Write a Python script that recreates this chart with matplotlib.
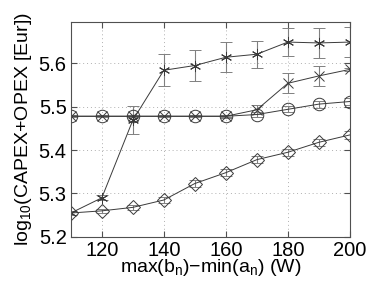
import matplotlib
matplotlib.use("Agg")
import matplotlib.pyplot as plt

x = [110, 120, 130, 140, 150, 160, 170, 180, 190, 200]

star_vals = [5.255, 5.290, 5.469, 5.584, 5.595, 5.614, 5.621, 5.649, 5.647, 5.649]
star_err = [0.004, 0.006, 0.032, 0.037, 0.035, 0.035, 0.031, 0.033, 0.035, 0.035]

cross_vals = [5.478, 5.478, 5.478, 5.478, 5.478, 5.478, 5.493, 5.554, 5.571, 5.586]
cross_err = [0.002, 0.002, 0.002, 0.002, 0.002, 0.003, 0.010, 0.023, 0.024, 0.003]

circ_vals = [5.478, 5.478, 5.478, 5.478, 5.478, 5.478, 5.482, 5.494, 5.506, 5.512]
circ_err = [0.002, 0.002, 0.002, 0.002, 0.002, 0.002, 0.006, 0.007, 0.008, 0.008]

diam_vals = [5.255, 5.260, 5.268, 5.285, 5.323, 5.348, 5.378, 5.395, 5.418, 5.435]
diam_err = [0.004, 0.005, 0.005, 0.006, 0.008, 0.008, 0.008, 0.008, 0.008, 0.010]

xticks = [120, 140, 160, 180, 200]
yticks = [5.2, 5.3, 5.4, 5.5, 5.6]

plt.rcParams['font.family'] = ['Liberation Sans', 'DejaVu Sans']
plt.rcParams['mathtext.fontset'] = 'custom'
plt.rcParams['mathtext.rm'] = 'Liberation Sans'
plt.rcParams['mathtext.it'] = 'Liberation Sans'

fig = plt.figure(figsize=(3.87, 2.91), dpi=100)
ax = fig.add_axes([0.183, 0.186, 0.721, 0.738])

lc = '#3a3a3a'
ec = '#808080'
common = dict(color=lc, lw=0.7, ecolor=ec, elinewidth=0.8, capsize=4, capthick=0.8,
              mfc='none', mec=lc, mew=0.7)
ax.errorbar(x, star_vals, yerr=star_err, marker=(6, 2, 0), ms=8, **common)
ax.errorbar(x, cross_vals, yerr=cross_err, marker='x', ms=7, **common)
ax.errorbar(x, circ_vals, yerr=circ_err, marker='o', ms=9, **common)
ax.errorbar(x, diam_vals, yerr=diam_err, marker='D', ms=7, **common)

ax.set_xlim(110, 200)
ax.set_ylim(5.2, 5.695)
ax.set_xticks(xticks)
ax.set_yticks(yticks)
ax.set_yticklabels(['%.1f' % v for v in yticks])
ax.grid(True, linestyle=(0, (1, 3)), color='#b0b0b0', lw=0.7)
ax.tick_params(direction='in', top=True, right=True, labelsize=14.5, length=4,
               color='#505050', pad=3)
for s in ax.spines.values():
    s.set_color('#505050')
    s.set_linewidth(0.8)

ax.set_xlabel(r'max(b$_\mathregular{n}$)$-$min(a$_\mathregular{n}$) (W)', fontsize=14, labelpad=-2)
ax.set_ylabel(r'log$_\mathregular{10}$(CAPEX+OPEX [Eur])', fontsize=14, labelpad=3)

fig.savefig('out.png', dpi=100)
